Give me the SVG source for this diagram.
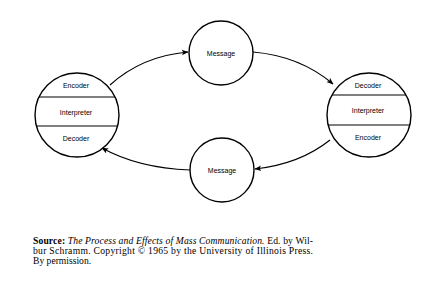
<svg xmlns="http://www.w3.org/2000/svg" width="437" height="284" viewBox="0 0 437 284">
<defs>
<style>
.c{fill:#fff;stroke:#000;stroke-width:1.4}
.d{stroke:#000;stroke-width:1.1}
.l{font-family:"Liberation Sans",Arial,sans-serif;font-size:7px;fill:#000;text-anchor:middle}
.e{fill:none;stroke:#000;stroke-width:1.2}
.s{font-family:"Liberation Serif","Times New Roman",serif;font-size:9.6px;fill:#000}
</style>
<marker id="ah" viewBox="0 0 10 10" refX="9" refY="5" markerWidth="7" markerHeight="7" markerUnits="userSpaceOnUse" orient="auto">
<path d="M0,1 L10,5 L0,9 L2.5,5 Z" fill="#000"/>
</marker>
<clipPath id="cl"><circle cx="77" cy="115" r="42"/></clipPath>
<clipPath id="cr"><circle cx="369" cy="115" r="42"/></clipPath>
</defs>
<rect width="437" height="284" fill="#fff"/>
<g id="connectors">
<path class="e" d="M110,85 Q142,56 188,52" marker-end="url(#ah)"/>
<path class="e" d="M253,52 Q300,56 333,84" marker-end="url(#ah)"/>
<path class="e" d="M330,140 Q300,164 255,169" marker-end="url(#ah)"/>
<path class="e" d="M190,170 Q138,168 102,148" marker-end="url(#ah)"/>
</g>
<g id="left">
<circle class="c" cx="77" cy="115" r="42"/>
<g clip-path="url(#cl)">
<line class="d" x1="30" y1="97" x2="125" y2="97"/>
<line class="d" x1="30" y1="126" x2="125" y2="126"/>
</g>
<text class="l" x="76" y="88">Encoder</text>
<text class="l" x="76" y="114.5">Interpreter</text>
<text class="l" x="76" y="141">Decoder</text>
</g>
<g id="right">
<circle class="c" cx="369" cy="115" r="42"/>
<g clip-path="url(#cr)">
<line class="d" x1="320" y1="95" x2="415" y2="95"/>
<line class="d" x1="320" y1="125" x2="415" y2="125"/>
</g>
<text class="l" x="368" y="88">Decoder</text>
<text class="l" x="368" y="113">Interpreter</text>
<text class="l" x="368" y="140">Encoder</text>
</g>
<g id="msg-top">
<circle class="c" cx="221" cy="53" r="32"/>
<text class="l" x="221" y="55.5">Message</text>
</g>
<g id="msg-bottom">
<circle class="c" cx="222" cy="170" r="32"/>
<text class="l" x="222" y="172.5">Message</text>
</g>
<g id="source">
<text class="s" x="33" y="244" textLength="280" lengthAdjust="spacing"><tspan font-weight="bold">Source:</tspan> <tspan font-style="italic">The Process and Effects of Mass Communication.</tspan> Ed. by Wil-</text>
<text class="s" x="33" y="254" textLength="280" lengthAdjust="spacing">bur Schramm. Copyright © 1965 by the University of Illinois Press.</text>
<text class="s" x="33" y="264">By permission.</text>
</g>
</svg>
